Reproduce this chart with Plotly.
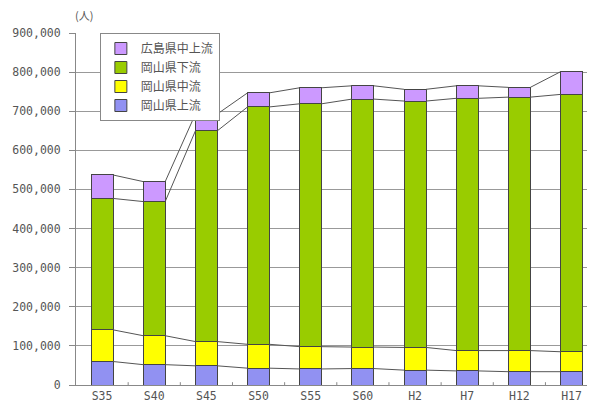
import plotly.graph_objects as go

categories = ["S35", "S40", "S45", "S50", "S55", "S60", "H2", "H7", "H12", "H17"]
okayama_upper = [60000, 52000, 49000, 43000, 41000, 42000, 38000, 36000, 34000, 34000]
okayama_middle = [81000, 74000, 62000, 61000, 57000, 55000, 58000, 52000, 54000, 51000]
okayama_lower = [336000, 343000, 539000, 607000, 621000, 634000, 630000, 645000, 648000, 658000]
hiroshima_upper = [60000, 51000, 43000, 36000, 41000, 34000, 30000, 32000, 25000, 58000]

series_names = ["岡山県上流", "岡山県中流", "岡山県下流", "広島県中上流"]
series_values = [okayama_upper, okayama_middle, okayama_lower, hiroshima_upper]
colors = ["#9191f2", "#ffff00", "#99cc00", "#cc99ff"]
y_ticks = [0, 100000, 200000, 300000, 400000, 500000, 600000, 700000, 800000, 900000]
y_tick_labels = ["0", "100,000", "200,000", "300,000", "400,000", "500,000",
                 "600,000", "700,000", "800,000", "900,000"]

bar_w = 0.42
xs = list(range(len(categories)))

fig = go.Figure()
for name, vals, col in zip(series_names, series_values, colors):
    fig.add_trace(go.Bar(
        x=xs, y=vals, name=name, width=bar_w,
        marker=dict(color=col, line=dict(color="#444444", width=1)),
    ))

# series lines connecting stack tops
cum = [0] * len(categories)
for vals in series_values:
    cum = [c + v for c, v in zip(cum, vals)]
    lx, ly = [], []
    for i in range(len(categories) - 1):
        lx += [xs[i] + bar_w / 2, xs[i + 1] - bar_w / 2, None]
        ly += [cum[i], cum[i + 1], None]
    fig.add_trace(go.Scatter(x=lx, y=ly, mode="lines", showlegend=False,
                             line=dict(color="#555555", width=1), hoverinfo="skip"))

fig.add_annotation(text="(人)", xref="paper", yref="paper", x=-0.005, y=1.0,
                   xanchor="left", yanchor="bottom", yshift=8, showarrow=False,
                   font=dict(size=11, color="#555555", family="Noto Sans CJK JP"))

fig.update_layout(
    width=587, height=406,
    margin=dict(l=68, r=0, t=25, b=29),
    barmode="stack",
    plot_bgcolor="white", paper_bgcolor="white",
    font=dict(family="Noto Sans CJK JP", size=11, color="#555555"),
    showlegend=True,
    legend=dict(x=0.046, y=1.0, xanchor="left", yanchor="top",
                traceorder="reversed", bgcolor="white",
                bordercolor="#888888", borderwidth=1,
                font=dict(size=12, color="#555555"),
                tracegroupgap=0, itemwidth=30),
    xaxis=dict(range=[-0.5, 9.45], tickvals=xs, ticktext=categories,
               showgrid=False, showline=True, linecolor="#888888", linewidth=1,
               ticks="", zeroline=False,
               tickfont=dict(size=11.5, color="#555555", family="DejaVu Sans Mono")),
    yaxis=dict(range=[0, 900000], tickvals=y_ticks, ticktext=y_tick_labels,
               showgrid=True, gridcolor="#999999", gridwidth=1,
               showline=True, linecolor="#888888", linewidth=1,
               ticks="outside", ticklen=6, tickcolor="#888888",
               ticklabelstandoff=6,
               zeroline=False, tickfont=dict(size=11.5, color="#555555",
                                             family="DejaVu Sans Mono")),
)

# small category-boundary tick marks along the x axis
for i in range(len(categories) - 1):
    fig.add_shape(type="line", xref="x", yref="paper",
                  x0=xs[i] + 0.5, x1=xs[i] + 0.5, y0=0, y1=0.008,
                  line=dict(color="#888888", width=1))

fig.write_html("out.html")
